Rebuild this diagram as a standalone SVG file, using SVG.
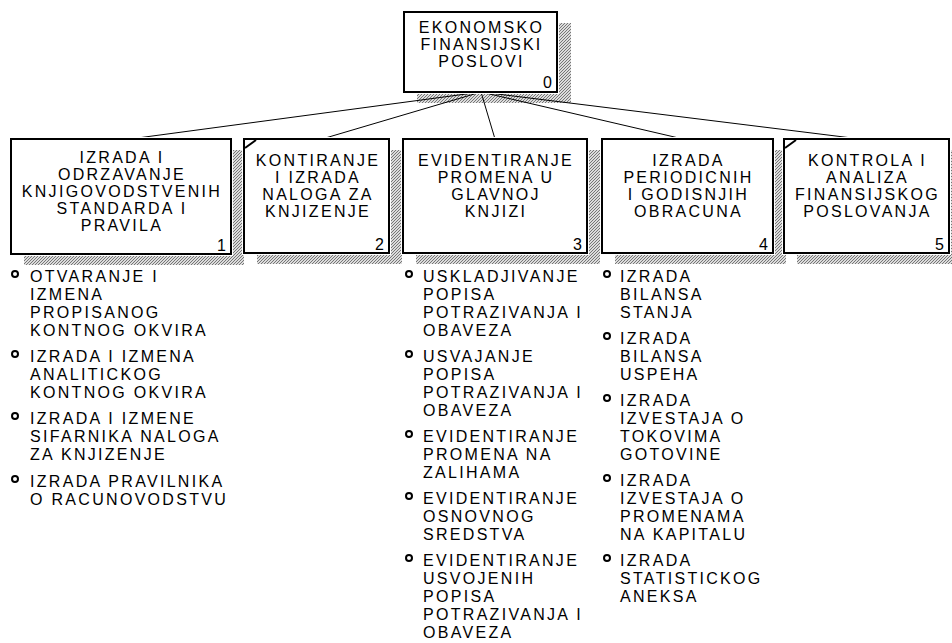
<svg xmlns="http://www.w3.org/2000/svg" width="952" height="643" viewBox="0 0 952 643">
  <defs>
    <!-- fine diagonal hatch used for the drop shadows -->
    <pattern id="hatch" width="3" height="3" patternUnits="userSpaceOnUse">
      <rect width="3" height="3" fill="#dcdcdc"/>
      <path d="M-1,1 L1,-1 M0,3 L3,0 M2,4 L4,2" stroke="#767676" stroke-width="1"/>
    </pattern>
    <style>
      .shadow { fill: url(#hatch); }
      .halo { fill: #fff; }
      .box { fill: #fff; stroke: #000; stroke-width: 2; }
      .mark { stroke: #000; stroke-width: 2; fill: none; }
      .lbl { font-family: "Liberation Sans", Arial, sans-serif; font-size: 16px; letter-spacing: 2.3px; fill: #000; }
      .c { text-anchor: middle; }
      .num { font-family: "Liberation Sans", Arial, sans-serif; font-size: 16px; fill: #000; text-anchor: end; }
      .conn { stroke: #000; stroke-width: 1; fill: none; }
      .bul { fill: #fff; stroke: #000; stroke-width: 2; }
    </style>
  </defs>
  <rect width="952" height="643" fill="#fff"/>

  <!-- shadows (drawn first, boxes overlap them) -->
  <g id="shadows">
    <rect class="shadow" x="417" y="23" width="154" height="80"/>
    <rect class="shadow" x="24" y="150" width="220" height="115"/>
    <rect class="shadow" x="257" y="150" width="145" height="114"/>
    <rect class="shadow" x="416" y="150" width="184" height="114"/>
    <rect class="shadow" x="615" y="150" width="171" height="114"/>
    <rect class="shadow" x="797" y="150" width="165" height="114"/>
  </g>

  <!-- tree connectors -->
  <g id="connectors">
    <line class="conn" x1="481" y1="92" x2="130" y2="139"/>
    <line class="conn" x1="481" y1="92" x2="322" y2="139"/>
    <line class="conn" x1="481" y1="92" x2="495" y2="139"/>
    <line class="conn" x1="481" y1="92" x2="683" y2="139"/>
    <line class="conn" x1="481" y1="92" x2="860" y2="139"/>
  </g>

  <g id="node0">
    <rect class="halo" x="402" y="10" width="157" height="84"/>
    <rect class="box" x="404" y="12" width="153" height="80"/>
    <text class="lbl c" x="481.5" y="33">EKONOMSKO</text>
    <text class="lbl c" x="481.5" y="50">FINANSIJSKI</text>
    <text class="lbl c" x="481.5" y="67">POSLOVI</text>
    <text class="num" x="552" y="88">0</text>
  </g>

  <g id="node1">
    <rect class="halo" x="9" y="137" width="224" height="119"/>
    <rect class="box" x="11" y="139" width="220" height="115"/>
    <text class="lbl c" x="122" y="163">IZRADA I</text>
    <text class="lbl c" x="122" y="180">ODRZAVANJE</text>
    <text class="lbl c" x="122" y="197">KNJIGOVODSTVENIH</text>
    <text class="lbl c" x="122" y="214">STANDARDA I</text>
    <text class="lbl c" x="122" y="231">PRAVILA</text>
    <text class="num" x="226" y="250.5">1</text>
  </g>

  <g id="node2">
    <rect class="halo" x="242" y="137" width="149" height="118"/>
    <rect class="box" x="244" y="139" width="145" height="114"/>
    <line class="mark" x1="245" y1="148" x2="256" y2="140"/>
    <text class="lbl c" x="318" y="166">KONTIRANJE</text>
    <text class="lbl c" x="318" y="183">I IZRADA</text>
    <text class="lbl c" x="318" y="200">NALOGA ZA</text>
    <text class="lbl c" x="318" y="217">KNJIZENJE</text>
    <text class="num" x="384" y="249.5">2</text>
  </g>

  <g id="node3">
    <rect class="halo" x="401" y="137" width="188" height="118"/>
    <rect class="box" x="403" y="139" width="184" height="114"/>
    <text class="lbl c" x="496" y="166">EVIDENTIRANJE</text>
    <text class="lbl c" x="496" y="183">PROMENA U</text>
    <text class="lbl c" x="496" y="200">GLAVNOJ</text>
    <text class="lbl c" x="496" y="217">KNJIZI</text>
    <text class="num" x="582" y="249.5">3</text>
  </g>

  <g id="node4">
    <rect class="halo" x="600" y="137" width="175" height="118"/>
    <rect class="box" x="602" y="139" width="171" height="114"/>
    <text class="lbl c" x="688.5" y="166">IZRADA</text>
    <text class="lbl c" x="688.5" y="183">PERIODICNIH</text>
    <text class="lbl c" x="688.5" y="200">I GODISNJIH</text>
    <text class="lbl c" x="688.5" y="217">OBRACUNA</text>
    <text class="num" x="768" y="249.5">4</text>
  </g>

  <g id="node5">
    <rect class="halo" x="782" y="137" width="169" height="118"/>
    <rect class="box" x="784" y="139" width="165" height="114"/>
    <line class="mark" x1="785" y1="148" x2="796" y2="140"/>
    <text class="lbl c" x="867.5" y="166">KONTROLA I</text>
    <text class="lbl c" x="867.5" y="183">ANALIZA</text>
    <text class="lbl c" x="867.5" y="200">FINANSIJSKOG</text>
    <text class="lbl c" x="867.5" y="217">POSLOVANJA</text>
    <text class="num" x="944" y="249.5">5</text>
  </g>

  <!-- bullet list under node 1 -->
  <g id="list1">
    <circle class="bul" cx="15" cy="274" r="3"/>
    <text class="lbl" x="30" y="282">OTVARANJE I</text>
    <text class="lbl" x="30" y="300">IZMENA</text>
    <text class="lbl" x="30" y="318">PROPISANOG</text>
    <text class="lbl" x="30" y="336">KONTNOG OKVIRA</text>
    <circle class="bul" cx="15" cy="354" r="3"/>
    <text class="lbl" x="30" y="362">IZRADA I IZMENA</text>
    <text class="lbl" x="30" y="380">ANALITICKOG</text>
    <text class="lbl" x="30" y="398">KONTNOG OKVIRA</text>
    <circle class="bul" cx="15" cy="416" r="3"/>
    <text class="lbl" x="30" y="424">IZRADA I IZMENE</text>
    <text class="lbl" x="30" y="442">SIFARNIKA NALOGA</text>
    <text class="lbl" x="30" y="460">ZA KNJIZENJE</text>
    <circle class="bul" cx="15" cy="479" r="3"/>
    <text class="lbl" x="30" y="487">IZRADA PRAVILNIKA</text>
    <text class="lbl" x="30" y="505">O RACUNOVODSTVU</text>
  </g>

  <!-- bullet list under node 3 -->
  <g id="list3">
    <circle class="bul" cx="409" cy="274" r="3"/>
    <text class="lbl" x="423" y="282">USKLADJIVANJE</text>
    <text class="lbl" x="423" y="300">POPISA</text>
    <text class="lbl" x="423" y="318">POTRAZIVANJA I</text>
    <text class="lbl" x="423" y="336">OBAVEZA</text>
    <circle class="bul" cx="409" cy="354" r="3"/>
    <text class="lbl" x="423" y="362">USVAJANJE</text>
    <text class="lbl" x="423" y="380">POPISA</text>
    <text class="lbl" x="423" y="398">POTRAZIVANJA I</text>
    <text class="lbl" x="423" y="416">OBAVEZA</text>
    <circle class="bul" cx="409" cy="434" r="3"/>
    <text class="lbl" x="423" y="442">EVIDENTIRANJE</text>
    <text class="lbl" x="423" y="460">PROMENA NA</text>
    <text class="lbl" x="423" y="478">ZALIHAMA</text>
    <circle class="bul" cx="409" cy="496" r="3"/>
    <text class="lbl" x="423" y="504">EVIDENTIRANJE</text>
    <text class="lbl" x="423" y="522">OSNOVNOG</text>
    <text class="lbl" x="423" y="540">SREDSTVA</text>
    <circle class="bul" cx="409" cy="558" r="3"/>
    <text class="lbl" x="423" y="566">EVIDENTIRANJE</text>
    <text class="lbl" x="423" y="584">USVOJENIH</text>
    <text class="lbl" x="423" y="602">POPISA</text>
    <text class="lbl" x="423" y="620">POTRAZIVANJA I</text>
    <text class="lbl" x="423" y="638">OBAVEZA</text>
  </g>

  <!-- bullet list under node 4 -->
  <g id="list4">
    <circle class="bul" cx="607" cy="274" r="3"/>
    <text class="lbl" x="620" y="282">IZRADA</text>
    <text class="lbl" x="620" y="300">BILANSA</text>
    <text class="lbl" x="620" y="318">STANJA</text>
    <circle class="bul" cx="607" cy="336" r="3"/>
    <text class="lbl" x="620" y="344">IZRADA</text>
    <text class="lbl" x="620" y="362">BILANSA</text>
    <text class="lbl" x="620" y="380">USPEHA</text>
    <circle class="bul" cx="607" cy="398" r="3"/>
    <text class="lbl" x="620" y="406">IZRADA</text>
    <text class="lbl" x="620" y="424">IZVESTAJA O</text>
    <text class="lbl" x="620" y="442">TOKOVIMA</text>
    <text class="lbl" x="620" y="460">GOTOVINE</text>
    <circle class="bul" cx="607" cy="478" r="3"/>
    <text class="lbl" x="620" y="486">IZRADA</text>
    <text class="lbl" x="620" y="504">IZVESTAJA O</text>
    <text class="lbl" x="620" y="522">PROMENAMA</text>
    <text class="lbl" x="620" y="540">NA KAPITALU</text>
    <circle class="bul" cx="607" cy="558" r="3"/>
    <text class="lbl" x="620" y="566">IZRADA</text>
    <text class="lbl" x="620" y="584">STATISTICKOG</text>
    <text class="lbl" x="620" y="602">ANEKSA</text>
  </g>
</svg>
